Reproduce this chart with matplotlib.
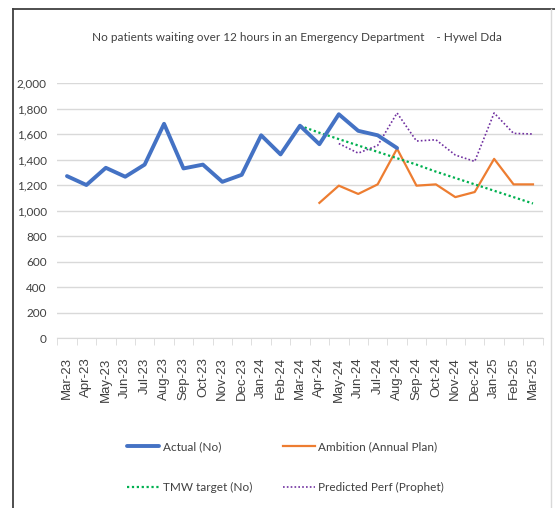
import matplotlib
matplotlib.use("Agg")
import matplotlib.pyplot as plt
from matplotlib.lines import Line2D
import numpy as np

months = ["Mar-23", "Apr-23", "May-23", "Jun-23", "Jul-23", "Aug-23", "Sep-23",
          "Oct-23", "Nov-23", "Dec-23", "Jan-24", "Feb-24", "Mar-24", "Apr-24",
          "May-24", "Jun-24", "Jul-24", "Aug-24", "Sep-24", "Oct-24", "Nov-24",
          "Dec-24", "Jan-25", "Feb-25", "Mar-25"]

# None = no value for that month
actual = [1270, 1200, 1335, 1265, 1360, 1680, 1330, 1360, 1225, 1280, 1590, 1440,
          1665, 1520, 1755, 1625, 1590, 1490,
          None, None, None, None, None, None, None]
ambition = [None] * 13 + [1060, 1195, 1130, 1205, 1485, 1195, 1205, 1105, 1145,
                          1405, 1205, 1205]
tmw_target = [None] * 12 + [1665, 1610, 1560, 1510, 1460, 1410, 1360, 1305, 1255,
                            1205, 1155, 1105, 1055]
predicted = [None] * 14 + [1525, 1450, 1510, 1765, 1545, 1555, 1435, 1385, 1765,
                           1605, 1600]

title = "No patients waiting over 12 hours in an Emergency Department    - Hywel Dda"


def arr(vals):
    return np.array([np.nan if v is None else v for v in vals], dtype=float)


plt.rcParams['font.family'] = ['Lato', 'DejaVu Sans']

fig = plt.figure(figsize=(5.55, 5.08), dpi=100)
ax = fig.add_axes([0.1032, 0.3346, 0.8746, 0.502])

x = np.arange(len(months))
l1, = ax.plot(x, arr(actual), color="#4472C4", lw=2.8, solid_capstyle="round",
              solid_joinstyle="round", label="Actual (No)", zorder=4)
l2, = ax.plot(x, arr(ambition), color="#ED7D31", lw=1.6, solid_joinstyle="round",
              label="Ambition (Annual Plan)", zorder=3)
l3, = ax.plot(x, arr(tmw_target), color="#00B050", lw=1.6, ls=(0, (1, 1.2)),
              label="TMW target (No)", zorder=3)
l4, = ax.plot(x, arr(predicted), color="#7030A0", lw=1.2, ls=(0, (1, 1.3)),
              label="Predicted Perf (Prophet)", zorder=3)

ax.set_xlim(-0.5, len(months) - 0.5)
ax.set_ylim(0, 2000)
ax.set_yticks(range(0, 2001, 200))
ax.set_yticklabels([f"{v:,}" for v in range(0, 2001, 200)], fontsize=8.5,
                   color="#404040")
ax.yaxis.grid(True, color="#D9D9D9", lw=1)
ax.set_axisbelow(True)

ax.set_xticks(x)
ax.set_xticklabels(months, rotation=90, fontsize=9.5, color="#404040",
                   family=['Liberation Sans'])
ax.set_xticks(np.arange(-0.5, len(months)), minor=True)
ax.tick_params(axis="x", which="major", length=0, pad=14)
ax.tick_params(axis="x", which="minor", length=5, color="#D9D9D9")
ax.tick_params(axis="y", length=0, pad=7.5)

for s in ["top", "right", "left"]:
    ax.spines[s].set_visible(False)
ax.spines["bottom"].set_color("#D9D9D9")

fig.text(0.535, 0.927, title, ha="center", va="center", fontsize=8.5,
         color="#404040")

# order so rows read: Actual, Ambition / TMW, Predicted
fig.legend([l1, l3, l2, l4], [l1.get_label(), l3.get_label(), l2.get_label(),
                              l4.get_label()],
           loc="center", bbox_to_anchor=(0.515, 0.08), ncol=2, frameon=False,
           fontsize=8.5, handlelength=2.7, columnspacing=2.6, labelspacing=2.5,
           handletextpad=0.3, labelcolor="#404040")

# outer frame
fig.add_artist(Line2D([13 / 555, 13 / 555], [0, 1 - 9 / 508], color="#404040", lw=1.3))
fig.add_artist(Line2D([13 / 555, 1], [1 - 9 / 508, 1 - 9 / 508], color="#404040", lw=1.3))
fig.add_artist(Line2D([551 / 555, 551 / 555], [0, 1 - 9 / 508], color="#D9D9D9", lw=1))

fig.savefig("out.png", dpi=100)
